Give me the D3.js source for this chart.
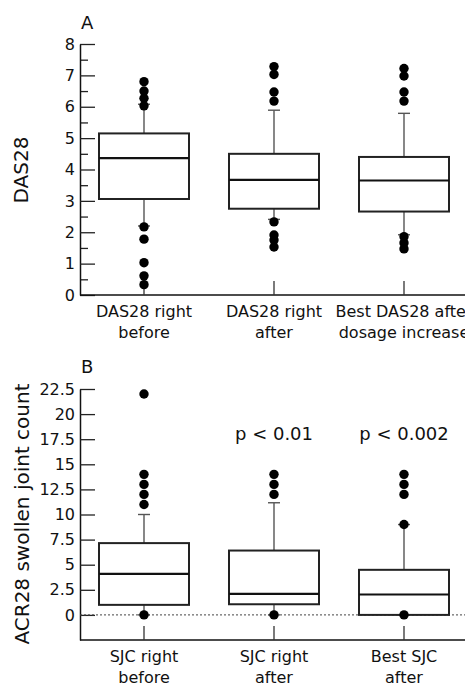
<!DOCTYPE html>
<html>
<head>
<meta charset="utf-8">
<script src="https://cdn.jsdelivr.net/npm/d3@7"></script>
<style>
  body { margin: 0; background: #fff; }
  svg text { font-family: "DejaVu Sans", sans-serif; fill: #111; }
</style>
</head>
<body>
<div id="chart"></div>
<script>
// panel A: DAS28
const dasCats = ["DAS28 right|before", "DAS28 right|after", "Best DAS28 after|dosage increase"];
const dasQ1 = [3.06, 2.75, 2.66];
const dasMed = [4.36, 3.67, 3.65];
const dasQ3 = [5.15, 4.5, 4.4];
const dasLo = [2.2, 2.41, 1.92];
const dasHi = [6.08, 5.89, 5.79];
const dasOut = [
  [6.8, 6.5, 6.27, 6.03, 2.17, 1.78, 1.03, 0.61, 0.33],
  [7.28, 7.03, 6.47, 6.18, 2.33, 1.91, 1.75, 1.53],
  [7.22, 6.98, 6.47, 6.18, 1.86, 1.66, 1.47]
];
const dasTicks = [0, 1, 2, 3, 4, 5, 6, 7, 8];

// panel B: swollen joint count
const sjcCats = ["SJC right|before", "SJC right|after", "Best SJC|after"];
const sjcQ1 = [1.0, 1.06, 0];
const sjcMed = [4.09, 2.09, 2.03];
const sjcQ3 = [7.15, 6.41, 4.49];
const sjcLo = [0, 0, 0];
const sjcHi = [10, 11.17, 9];
const sjcOut = [
  [22, 14, 13, 12, 11, 0],
  [14, 13, 12, 0],
  [14, 13, 12, 9, 0]
];
const sjcTicks = [0, 2.5, 5, 7.5, 10, 12.5, 15, 17.5, 20, 22.5];
const sjcP = ["", "p < 0.01", "p < 0.002"];

const width = 465;
const height = 683;
const svg = d3.select("#chart").append("svg")
  .attr("width", width).attr("height", height);

function panel(opt) {
  const g = svg.append("g");
  const x = d3.scaleBand().domain(opt.cats).range([79, 469]);
  const y = d3.scaleLinear().domain(opt.domain).range(opt.yRange);
  const bw = 90;
  const cx = (i) => x(opt.cats[i]) + x.bandwidth() / 2;

  // minor ticks
  if (opt.minor) {
    g.append("g").attr("transform", "translate(80,0)")
      .call(d3.axisLeft(y).tickValues(opt.minor).tickSize(-8).tickFormat(""))
      .call((a) => a.select(".domain").remove())
      .selectAll("line").attr("stroke", "#222").attr("stroke-width", 1.3);
  }
  const ya = g.append("g").attr("transform", "translate(80,0)")
    .call(d3.axisLeft(y).tickValues(opt.ticks).tickSize(-15).tickSizeOuter(0).tickPadding(5)
      .tickFormat(opt.fmt));
  ya.selectAll("line").attr("stroke", "#222").attr("stroke-width", 1.3);
  ya.select(".domain").attr("stroke", "#111").attr("stroke-width", 1.5);
  ya.selectAll("text").attr("font-size", 16).style("font-family", "DejaVu Sans");

  // x axis baseline
  const base = opt.yRange[0];
  g.append("line").attr("x1", 80).attr("x2", width).attr("y1", base).attr("y2", base)
    .attr("stroke", "#111").attr("stroke-width", 1.5);

  // zero reference line
  if (opt.zeroLine) {
    g.append("line").attr("x1", 80).attr("x2", width).attr("y1", y(0)).attr("y2", y(0))
      .attr("stroke", "#444").attr("stroke-width", 1).attr("stroke-dasharray", "2,2");
  }

  // category ticks and labels
  opt.cats.forEach((c, i) => {
    g.append("line").attr("x1", cx(i)).attr("x2", cx(i)).attr("y1", base).attr("y2", base - 14)
      .attr("stroke", "#333").attr("stroke-width", 1.3);
    const t = g.append("text").attr("text-anchor", "middle").attr("font-size", 16)
      .attr("x", cx(i)).attr("y", base + 22);
    c.split("|").forEach((line, k) => {
      t.append("tspan").attr("x", cx(i)).attr("dy", k ? 21 : 0).text(line);
    });
  });

  // boxes
  opt.cats.forEach((c, i) => {
    const xc = cx(i);
    const w = g.append("g").attr("stroke", "#555").attr("stroke-width", 1.4);
    w.append("line").attr("x1", xc).attr("x2", xc).attr("y1", y(opt.q3[i])).attr("y2", y(opt.hi[i]));
    w.append("line").attr("x1", xc).attr("x2", xc).attr("y1", y(opt.q1[i])).attr("y2", y(opt.lo[i]));
    w.append("line").attr("x1", xc - 6).attr("x2", xc + 6).attr("y1", y(opt.hi[i])).attr("y2", y(opt.hi[i]));
    w.append("line").attr("x1", xc - 6).attr("x2", xc + 6).attr("y1", y(opt.lo[i])).attr("y2", y(opt.lo[i]));
    g.append("rect").attr("x", xc - bw / 2).attr("width", bw)
      .attr("y", y(opt.q3[i])).attr("height", y(opt.q1[i]) - y(opt.q3[i]))
      .attr("fill", "#fff").attr("stroke", "#222").attr("stroke-width", 2);
    g.append("line").attr("x1", xc - bw / 2).attr("x2", xc + bw / 2)
      .attr("y1", y(opt.med[i])).attr("y2", y(opt.med[i]))
      .attr("stroke", "#111").attr("stroke-width", 2.2);
    g.selectAll(null).data(opt.out[i]).enter().append("circle")
      .attr("cx", xc).attr("cy", (d) => y(d)).attr("r", 4.7).attr("fill", "#000");
    if (opt.p && opt.p[i]) {
      g.append("text").attr("x", xc).attr("y", opt.pY).attr("text-anchor", "middle")
        .attr("font-size", 18).text(opt.p[i]);
    }
  });

  // y label
  g.append("text").attr("transform", `translate(${opt.labelX},${opt.labelY}) rotate(-90)`)
    .attr("text-anchor", "middle").attr("font-size", 20).text(opt.ylabel);
  g.append("text").attr("x", 81).attr("y", opt.letterY).attr("font-size", 18).text(opt.letter);
}

panel({
  cats: dasCats, domain: [0, 8], yRange: [295, 44], ticks: dasTicks,
  minor: d3.range(0.5, 8, 1), fmt: d3.format("d"),
  q1: dasQ1, med: dasMed, q3: dasQ3, lo: dasLo, hi: dasHi, out: dasOut,
  ylabel: "DAS28", labelX: 28, labelY: 170, letter: "A", letterY: 29
});

panel({
  cats: sjcCats, domain: [-2.5, 22.5], yRange: [640, 389], ticks: sjcTicks,
  fmt: (d) => (Number.isInteger(d) ? d : d.toFixed(1)), zeroLine: true,
  q1: sjcQ1, med: sjcMed, q3: sjcQ3, lo: sjcLo, hi: sjcHi, out: sjcOut,
  p: sjcP, pY: 440,
  ylabel: "ACR28 swollen joint count", labelX: 29, labelY: 514, letter: "B", letterY: 373
});
</script>
</body>
</html>
